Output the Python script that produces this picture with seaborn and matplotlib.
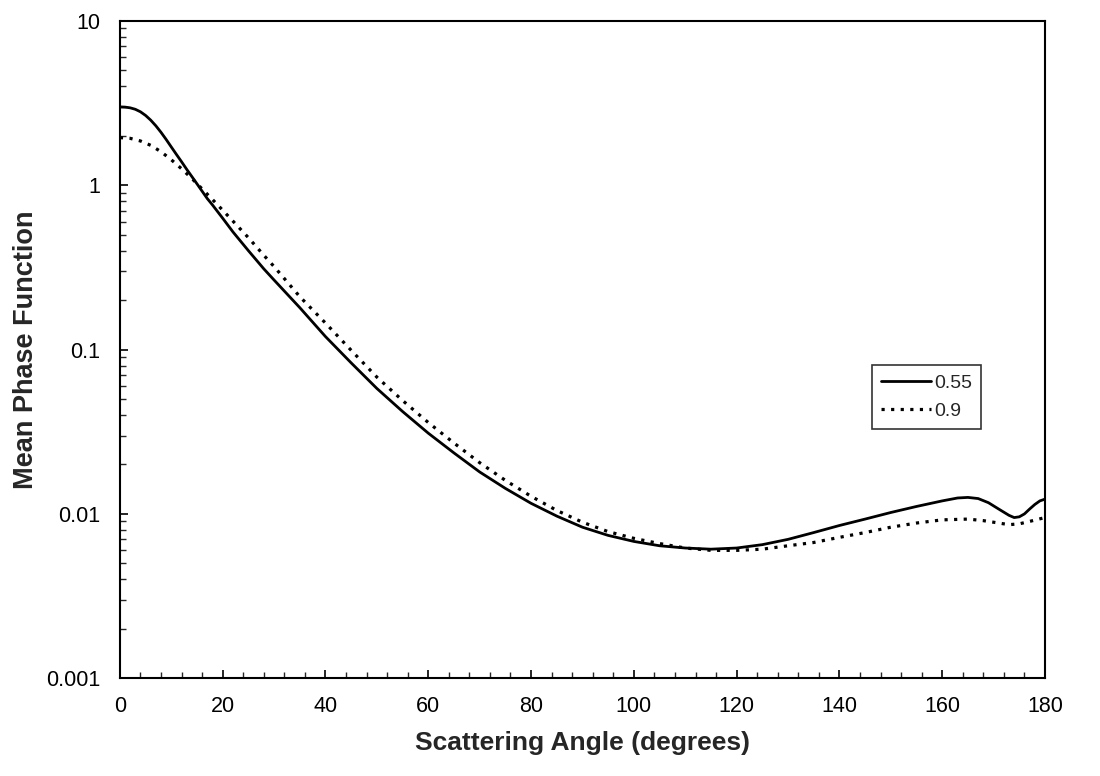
import matplotlib
matplotlib.use("Agg")
import matplotlib.pyplot as plt
import seaborn as sns
import numpy as np
import pandas as pd
from matplotlib.ticker import LogLocator, NullFormatter, MultipleLocator

angle_055 = [0, 1, 2, 3, 4, 5, 6, 7, 8, 9, 10, 11, 12, 13, 14, 15, 16, 17, 18, 20, 22, 25, 28, 30, 35, 40, 45, 50, 55, 60,
             65, 70, 75, 80, 85, 90, 95, 100, 105, 110, 115, 120, 125, 130, 135, 140, 145, 150, 155, 160, 163, 165, 167,
             169, 171, 173, 174, 175, 176, 177, 178, 179, 180]
phase_055 = [3.0, 2.99, 2.96, 2.9, 2.8, 2.66, 2.49, 2.3, 2.1, 1.9, 1.71, 1.54, 1.39, 1.25, 1.13, 1.02, 0.92, 0.83, 0.76,
             0.63, 0.52, 0.40, 0.31, 0.265, 0.18, 0.12, 0.083, 0.058, 0.042, 0.031, 0.0235, 0.018, 0.0143, 0.0116, 0.0097,
             0.0083, 0.0074, 0.0068, 0.0064, 0.0062, 0.0061, 0.0062, 0.0065, 0.0070, 0.0077, 0.0085, 0.0093, 0.0102,
             0.0111, 0.0120, 0.0125, 0.0126, 0.0124, 0.0117, 0.0107, 0.0098, 0.0095, 0.0096, 0.0100, 0.0107, 0.0114,
             0.0120, 0.0123]

angle_09 = [0, 2, 4, 6, 8, 10, 12, 14, 16, 18, 20, 22, 25, 28, 30, 35, 40, 45, 50, 55, 60, 65, 70, 75, 80, 85, 90, 95,
            100, 105, 110, 115, 120, 125, 130, 135, 140, 145, 150, 155, 160, 165, 168, 171, 173, 175, 177, 180]
phase_09 = [1.95, 1.93, 1.86, 1.75, 1.6, 1.43, 1.26, 1.1, 0.95, 0.82, 0.705, 0.605, 0.48, 0.375, 0.32, 0.21, 0.145, 0.099,
            0.068, 0.049, 0.036, 0.027, 0.0205, 0.016, 0.0128, 0.0105, 0.0089, 0.0078, 0.0071, 0.0066, 0.0062, 0.0060,
            0.0060, 0.0061, 0.0064, 0.0067, 0.0072, 0.0077, 0.0083, 0.0088, 0.0092, 0.0093, 0.0091, 0.0088, 0.0086,
            0.0087, 0.0090, 0.0095]

series_labels = ["0.55", "0.9"]
x_ticks = [0, 20, 40, 60, 80, 100, 120, 140, 160, 180]
y_ticks = [0.001, 0.01, 0.1, 1, 10]
y_tick_labels = ["0.001", "0.01", "0.1", "1", "10"]

sns.set_theme(style="white")
plt.rcParams["font.family"] = ["Liberation Sans", "DejaVu Sans"]

df = pd.concat([
    pd.DataFrame({"angle": angle_055, "phase": phase_055, "series": series_labels[0]}),
    pd.DataFrame({"angle": angle_09, "phase": phase_09, "series": series_labels[1]}),
])

fig = plt.figure(figsize=(11, 7.76), dpi=100)
ax = fig.add_axes([0.109, 0.126, 0.841, 0.847])

sns.lineplot(data=df[df.series == series_labels[0]], x="angle", y="phase", ax=ax,
             color="black", linewidth=2.0, linestyle="-", label=series_labels[0], estimator=None)
sns.lineplot(data=df[df.series == series_labels[1]], x="angle", y="phase", ax=ax,
             color="black", linewidth=2.3, linestyle=(0, (1, 2.0)), label=series_labels[1], estimator=None)

ax.set_yscale("log")
ax.set_xlim(0, 180)
ax.set_ylim(0.001, 10)
ax.set_xticks(x_ticks)
ax.set_xticklabels([str(t) for t in x_ticks])
ax.xaxis.set_minor_locator(MultipleLocator(4))
ax.set_yticks(y_ticks)
ax.set_yticklabels(y_tick_labels)
ax.yaxis.set_minor_locator(LogLocator(base=10, subs=np.arange(2, 10)))
ax.yaxis.set_minor_formatter(NullFormatter())

ax.tick_params(axis="both", which="major", direction="in", length=6, width=1.2,
               labelsize=15.5, colors="black", bottom=True, left=True, top=False, right=False)
ax.tick_params(axis="both", which="minor", direction="in", length=4, width=1.0,
               bottom=True, left=True, top=False, right=False)
ax.tick_params(axis="x", which="major", pad=13)
ax.tick_params(axis="y", which="major", pad=14)

for s in ax.spines.values():
    s.set_color("black")
    s.set_linewidth(1.5)

ax.set_xlabel("Scattering Angle (degrees)", fontsize=19, fontweight="bold", labelpad=10)
ax.set_ylabel("Mean Phase Function", fontsize=19.5, fontweight="bold", labelpad=5)
ax.grid(False)

leg = ax.legend(loc="upper left", bbox_to_anchor=(0.813, 0.476), frameon=True, fancybox=False,
                edgecolor="black", fontsize=14, handlelength=2.6, handletextpad=0.15,
                borderpad=0.45, labelspacing=0.55, borderaxespad=0)
leg.get_frame().set_linewidth(1.2)

fig.savefig("out.png", dpi=100, facecolor="white")
